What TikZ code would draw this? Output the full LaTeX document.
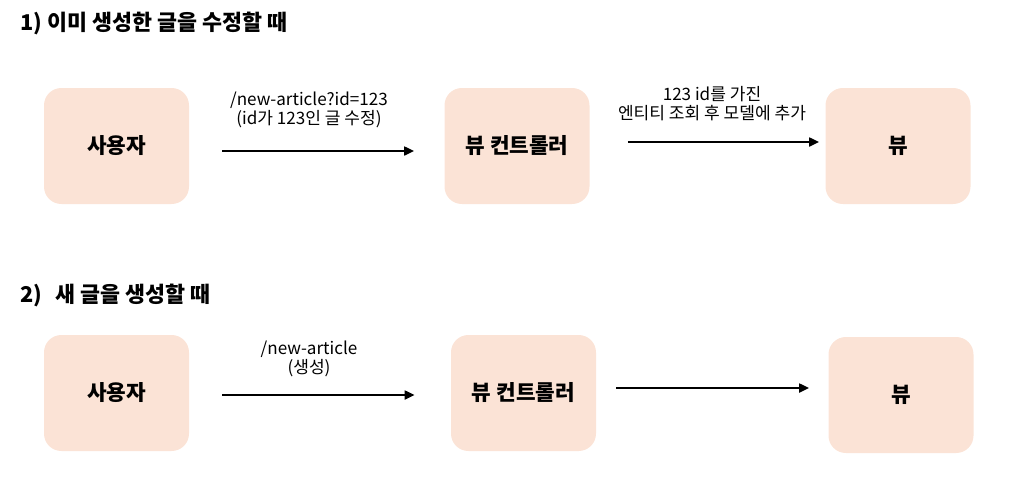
\documentclass[tikz,border=0pt]{standalone}
\usepackage{fontspec}
\setmainfont{Noto Sans CJK KR}
\usepackage{tikz}
\usetikzlibrary{arrows.meta, positioning, calc}

\definecolor{boxpeach}{HTML}{FBE3D6}

\tikzset{
    stagebox/.style={draw=none, fill=boxpeach, rounded corners=13pt,
        minimum width=108.75pt, minimum height=87pt,
        font=\fontsize{16}{19}\selectfont\bfseries},
    flowarrow/.style={-{Triangle[length=7.5pt, width=6.5pt]}, line width=1.9pt, black},
    steptitle/.style={anchor=west, font=\fontsize{16.3}{19}\selectfont\bfseries},
    arrowlabel/.style={align=center, font=\fontsize{12.8}{14.3}\selectfont, inner sep=0pt}
}

\begin{document}
\begin{tikzpicture}[x=0.75pt, y=-0.75pt]
    \useasboundingbox (0,0) rectangle (1011,497);

    % Case 1: editing an existing article
    \node[steptitle] (title1) at (16,23) {1) 이미 생성한 글을 수정할 때};
    \node[stagebox] (user1) at (116.5,146) {사용자};
    \node[stagebox] (ctrl1) at (517,146) {뷰 컨트롤러};
    \node[stagebox] (view1) at (898,146) {뷰};

    \draw[flowarrow, shorten <=24.75pt, shorten >=22.5pt]
        ($(user1.east)+(0,5)$) -- ($(ctrl1.west)+(0,5)$);
    \draw[flowarrow, shorten <=28.5pt, shorten >=4.5pt]
        ($(ctrl1.east)+(0,-4)$) -- ($(view1.west)+(0,-4)$);

    \node[arrowlabel] (req1) at (309,110) {/new-article?id=123\\(id가 123인 글 수정)};
    \node[arrowlabel] (find1) at (712,104) {123 id를 가진\\엔티티 조회 후 모델에 추가};

    % Case 2: creating a new article
    \node[steptitle] (title2) at (16,295) {2)\hspace{10pt}새 글을 생성할 때};
    \node[stagebox] (user2) at (116.5,393) {사용자};
    \node[stagebox] (ctrl2) at (523.5,393) {뷰 컨트롤러};
    \node[stagebox] (view2) at (901,395) {뷰};

    \draw[flowarrow, shorten <=24.75pt, shorten >=27pt]
        ($(user2.east)+(0,2)$) -- ($(ctrl2.west)+(0,2)$);
    \draw[flowarrow, shorten <=15pt, shorten >=14.25pt]
        ($(ctrl2.east)+(0,-5)$) -- ($(view2.west)+(0,-7)$);

    \node[arrowlabel] (req2) at (309,359) {/new-article\\(생성)};
\end{tikzpicture}
\end{document}
